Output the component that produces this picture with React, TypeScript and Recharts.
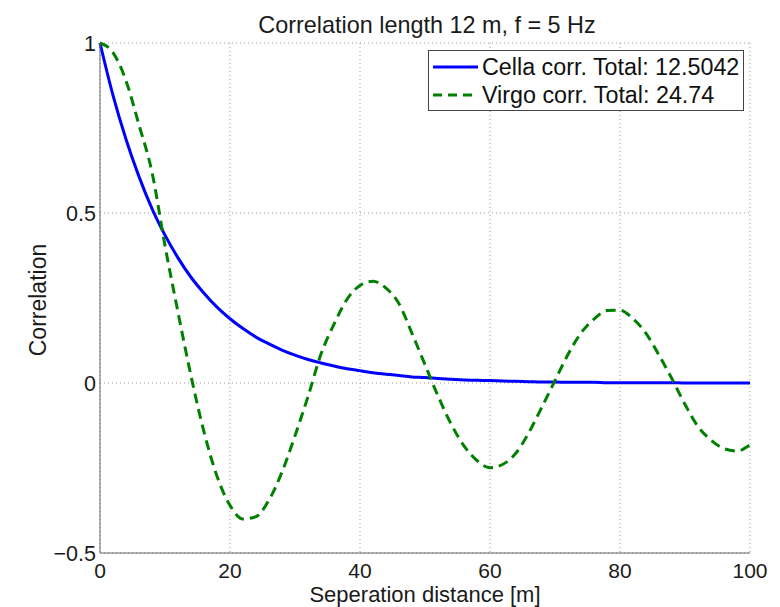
import React from 'react';
import { LineChart, Line, XAxis, YAxis, CartesianGrid, Legend } from 'recharts';

const distance = [0, 2, 4, 6, 8, 10, 12, 14, 16, 18, 20, 22, 24, 26, 28, 30, 32, 34, 36, 38, 40, 42, 44, 46, 48, 50, 52, 54, 56, 58, 60, 62, 64, 66, 68, 70, 72, 74, 76, 78, 80, 82, 84, 86, 88, 90, 92, 94, 96, 98, 100];

const cellaCorr = [1, 0.846, 0.717, 0.607, 0.513, 0.435, 0.368, 0.311, 0.264, 0.223, 0.189, 0.16, 0.135, 0.115, 0.097, 0.082, 0.069, 0.059, 0.05, 0.042, 0.036, 0.03, 0.026, 0.022, 0.018, 0.016, 0.013, 0.011, 0.009, 0.008, 0.007, 0.006, 0.005, 0.004, 0.003, 0.003, 0.002, 0.002, 0.002, 0.001, 0.001, 0.001, 0.001, 0.001, 0.001, 0.0, 0.0, 0.0, 0.0, 0.0, 0.0];

const virgoCorr = [1, 0.972, 0.889, 0.759, 0.62, 0.404, 0.208, 0.021, -0.144, -0.274, -0.36, -0.4, -0.393, -0.344, -0.262, -0.155, -0.04, 0.085, 0.173, 0.246, 0.287, 0.299, 0.279, 0.233, 0.146, 0.054, -0.038, -0.12, -0.185, -0.228, -0.249, -0.239, -0.206, -0.145, -0.07, 0.007, 0.084, 0.147, 0.188, 0.213, 0.214, 0.189, 0.146, 0.082, 0.012, -0.063, -0.128, -0.168, -0.193, -0.2, -0.182];

const xTicks = [0, 20, 40, 60, 80, 100];
const yTicks = [-0.5, 0, 0.5, 1];

const titleText = 'Correlation length 12 m, f = 5 Hz';
const xLabelText = 'Seperation distance [m]';
const yLabelText = 'Correlation';
const cellaName = 'Cella corr. Total: 12.5042';
const virgoName = 'Virgo corr. Total: 24.74';

const rows = distance.map((d, i) => ({ d, cella: cellaCorr[i], virgo: virgoCorr[i] }));

const FONT = '"Liberation Sans", Arial, Helvetica, sans-serif';

const fmtY = (v: number) => (v < 0 ? '\u2212' + Math.abs(v) : String(v));

const LegendBox = () => (
  <div
    style={{
      border: '1px solid #444',
      background: '#fff',
      width: 314,
      height: 59,
      boxSizing: 'content-box',
      fontFamily: FONT,
      fontSize: 23.3,
      color: '#111',
      overflow: 'hidden',
    }}
  >
    {[
      { name: cellaName, color: '#0000ff', dash: undefined },
      { name: virgoName, color: '#008000', dash: '9 6' },
    ].map((it, i) => (
      <div key={i} style={{ display: 'flex', alignItems: 'center', height: 28, marginTop: i === 0 ? 2 : 0 }}>
        <svg width={49} height={10} style={{ marginLeft: 4, flex: 'none' }}>
          <line x1={0} y1={5} x2={45} y2={5} stroke={it.color} strokeWidth={3} strokeDasharray={it.dash} />
        </svg>
        <span style={{ whiteSpace: 'nowrap', lineHeight: '28px' }}>{it.name}</span>
      </div>
    ))}
  </div>
);

export default function App() {
  return (
    <div style={{ width: 764, height: 599, fontFamily: FONT }}>
      <LineChart
        width={764}
        height={599}
        data={rows}
        margin={{ top: 35, right: 22, bottom: 24, left: 0 }}
        style={{ fontFamily: FONT }}
      >
        <CartesianGrid stroke="#9a9a9a" strokeDasharray="1 3" />
        <XAxis
          dataKey="d"
          type="number"
          domain={[0, 100]}
          ticks={xTicks}
          height={30}
          tickLine={false}
          tickSize={0}
          tickMargin={10}
          axisLine={{ stroke: '#666' }}
          tick={{ fill: '#1a1a1a', fontSize: 21 }}
          interval={0}
        />
        <YAxis
          type="number"
          domain={[-0.5, 1]}
          ticks={yTicks}
          width={92}
          tickLine={false}
          tickSize={0}
          tickMargin={4}
          axisLine={{ stroke: '#666' }}
          tick={{ fill: '#1a1a1a', fontSize: 21.5 }}
          tickFormatter={fmtY}
          interval={0}
        />
        <Legend
          verticalAlign="middle"
          align="center"
          layout="horizontal"
          content={() => <LegendBox />}
          wrapperStyle={{ position: 'absolute', left: 420, top: 42, width: 316, height: 61 }}
        />
        <Line
          type="monotone"
          dataKey="cella"
          name={cellaName}
          stroke="#0000ff"
          strokeWidth={3}
          dot={false}
          activeDot={false}
          isAnimationActive={false}
        />
        <Line
          type="monotone"
          dataKey="virgo"
          name={virgoName}
          stroke="#008000"
          strokeWidth={3}
          strokeDasharray="10 6"
          dot={false}
          activeDot={false}
          isAnimationActive={false}
        />
        <text x={419} y={25} textAnchor="middle" fontSize={23.4} fill="#1a1a1a" fontFamily={FONT}>
          {titleText}
        </text>
        <text x={417} y={594.2} textAnchor="middle" fontSize={22} fill="#1a1a1a" fontFamily={FONT}>
          {xLabelText}
        </text>
        <text
          x={38}
          y={292}
          textAnchor="middle"
          fontSize={23}
          fill="#1a1a1a"
          fontFamily={FONT}
          transform="rotate(-90, 38, 292)"
        >
          {yLabelText}
        </text>
      </LineChart>
    </div>
  );
}
